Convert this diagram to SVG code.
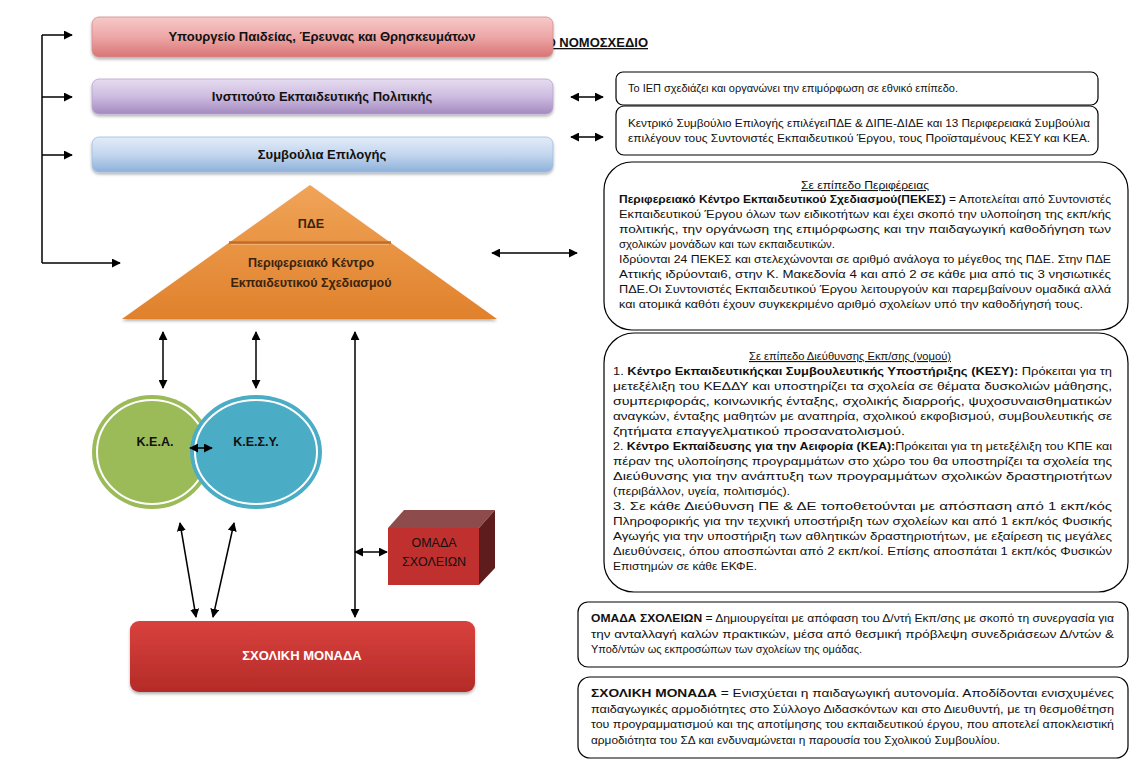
<svg xmlns="http://www.w3.org/2000/svg" width="1140" height="777" viewBox="0 0 1140 777">
<defs>
<style>
text{font-family:"Liberation Sans","Noto Sans",Arial,sans-serif;fill:#111}
.hd{font-size:13px;font-weight:bold;text-anchor:middle}
.bx{font-size:11.2px}
.b{font-weight:bold}
.tb{fill:#fff;stroke:#000;stroke-width:1.2}
.ar{fill:none;stroke:#000;stroke-width:1.5;marker-start:url(#ah);marker-end:url(#ah)}
.ar1{fill:none;stroke:#000;stroke-width:1.5;marker-end:url(#ah)}
.wt{fill:#fff;font-weight:bold;font-size:13px;text-anchor:middle}
.pt{font-size:12.5px;font-weight:bold;text-anchor:middle;fill:#3a2410}
</style>
<marker id="ah" viewBox="0 0 10 10" refX="9" refY="5" markerWidth="6" markerHeight="6" orient="auto-start-reverse" markerUnits="strokeWidth">
<path d="M0,0 L10,5 L0,10 z" fill="#000"/>
</marker>
<linearGradient id="gPink" x1="0" y1="0" x2="0" y2="1">
<stop offset="0" stop-color="#F6CACA"/><stop offset="0.5" stop-color="#EDA6A6"/><stop offset="1" stop-color="#D97474"/>
</linearGradient>
<linearGradient id="gPurp" x1="0" y1="0" x2="0" y2="1">
<stop offset="0" stop-color="#E6DCF0"/><stop offset="0.5" stop-color="#CDBCE0"/><stop offset="1" stop-color="#A38ABF"/>
</linearGradient>
<linearGradient id="gBlue" x1="0" y1="0" x2="0" y2="1">
<stop offset="0" stop-color="#E2ECF8"/><stop offset="0.5" stop-color="#C3D6EE"/><stop offset="1" stop-color="#8EB0DA"/>
</linearGradient>
<linearGradient id="gOr" x1="0" y1="0" x2="0" y2="1">
<stop offset="0" stop-color="#F0A458"/><stop offset="1" stop-color="#E0812C"/>
</linearGradient>
<linearGradient id="gRed" x1="0" y1="0" x2="0" y2="1">
<stop offset="0" stop-color="#D9413D"/><stop offset="1" stop-color="#B42B28"/>
</linearGradient>
<filter id="sh" x="-10%" y="-20%" width="120%" height="150%">
<feDropShadow dx="0" dy="2" stdDeviation="1.5" flood-color="#000" flood-opacity="0.3"/>
</filter>
</defs>
<rect width="1140" height="777" fill="#fff"/>

<text x="648" y="47" text-anchor="end" font-size="13" font-weight="bold" text-decoration="underline">Ο ΝΟΜΟΣΧΕΔΙΟ</text>

<g id="ypourgeio">
<rect x="92" y="17" width="461" height="40" rx="7" fill="url(#gPink)" stroke="#D58A8A" stroke-width="0.8" filter="url(#sh)"/>
<text class="hd" x="322" y="41">Υπουργείο Παιδείας, Έρευνας και Θρησκευμάτων</text>
</g>
<g id="iep">
<rect x="92" y="79" width="461" height="35" rx="7" fill="url(#gPurp)" stroke="#B7A3CF" stroke-width="0.8" filter="url(#sh)"/>
<text class="hd" x="322" y="101">Ινστιτούτο Εκπαιδευτικής Πολιτικής</text>
</g>
<g id="symvoulia">
<rect x="92" y="137" width="461" height="35" rx="7" fill="url(#gBlue)" stroke="#9FBCE0" stroke-width="0.8" filter="url(#sh)"/>
<text class="hd" x="322" y="159">Συμβούλια Επιλογής</text>
</g>

<g id="pde">
<polygon points="310,185 497,319 122,319" fill="url(#gOr)" filter="url(#sh)"/>
<line x1="229" y1="242.5" x2="391" y2="242.5" stroke="#C46C24" stroke-width="2.5"/>
<line x1="231" y1="244.5" x2="389" y2="244.5" stroke="#F2B070" stroke-width="1"/>
<text class="pt" x="311" y="228">ΠΔΕ</text>
<text class="pt" x="311" y="267">Περιφερειακό Κέντρο</text>
<text class="pt" x="311" y="287">Εκπαιδευτικού Σχεδιασμού</text>
</g>

<g id="kea">
<ellipse cx="152" cy="452" rx="60" ry="57" fill="#9BBB59"/>
<ellipse cx="152" cy="452" rx="55" ry="52" fill="none" stroke="#fff" stroke-width="2"/>
<text x="155" y="446" font-size="12.5" font-weight="bold" text-anchor="middle">Κ.Ε.Α.</text>
</g>
<g id="kesy">
<ellipse cx="256" cy="452" rx="66" ry="57" fill="#4BACC6"/>
<ellipse cx="256" cy="452" rx="61" ry="52" fill="none" stroke="#fff" stroke-width="2"/>
<text x="256" y="446" font-size="12.5" font-weight="bold" text-anchor="middle">Κ.Ε.Σ.Υ.</text>
</g>

<g id="omada">
<polygon points="388,528 404,510 495,510 479,528" fill="#8E4B4B"/>
<polygon points="479,528 495,510 495,568 479,585" fill="#5E1C1C"/>
<rect x="388" y="528" width="91" height="57" fill="#C0302E"/>
<text x="434" y="547" font-size="12.5" text-anchor="middle" fill="#fff">ΟΜΑΔΑ</text>
<text x="434" y="566" font-size="12.5" text-anchor="middle" fill="#fff">ΣΧΟΛΕΙΩΝ</text>
</g>

<g id="sxoliki">
<rect x="130" y="621" width="345" height="71" rx="9" fill="url(#gRed)" filter="url(#sh)"/>
<text class="wt" x="302" y="660">ΣΧΟΛΙΚΗ ΜΟΝΑΔΑ</text>
</g>

<g id="iep-desc">
<rect class="tb" x="616" y="72" width="482" height="33" rx="7"/>
<text class="bx" x="628" y="92" textLength="330" lengthAdjust="spacingAndGlyphs">Το ΙΕΠ σχεδιάζει και οργανώνει την επιμόρφωση σε εθνικό επίπεδο.</text>
</g>
<g id="symv-desc">
<rect class="tb" x="616" y="106" width="482" height="49" rx="8"/>
<text class="bx" x="628" y="127" textLength="462" lengthAdjust="spacingAndGlyphs">Κεντρικό Συμβούλιο Επιλογής επιλέγειΠΔΕ &amp; ΔΙΠΕ-ΔΙΔΕ και 13 Περιφερειακά Συμβούλια</text>
<text class="bx" x="628" y="142" textLength="462" lengthAdjust="spacingAndGlyphs">επιλέγουν τους Συντονιστές Εκπαιδευτικού Έργου, τους Προϊσταμένους ΚΕΣΥ και ΚΕΑ.</text>
</g>

<g id="pekes-desc">
<rect class="tb" x="604" y="162" width="524" height="168" rx="28"/>
<text class="bx" x="865" y="189" text-anchor="middle" text-decoration="underline" textLength="128" lengthAdjust="spacingAndGlyphs">Σε επίπεδο Περιφέρειας</text>
<text class="bx" x="619" y="203" textLength="492" lengthAdjust="spacingAndGlyphs"><tspan class="b">Περιφερειακό Κέντρο Εκπαιδευτικού Σχεδιασμού(ΠΕΚΕΣ)</tspan> = Αποτελείται από Συντονιστές</text>
<text class="bx" x="619" y="218" textLength="492" lengthAdjust="spacingAndGlyphs">Εκπαιδευτικού Έργου όλων των ειδικοτήτων και έχει σκοπό την υλοποίηση της εκπ/κής</text>
<text class="bx" x="619" y="233" textLength="492" lengthAdjust="spacingAndGlyphs">πολιτικής, την οργάνωση της επιμόρφωσης και την παιδαγωγική καθοδήγηση των</text>
<text class="bx" x="619" y="248" textLength="216" lengthAdjust="spacingAndGlyphs">σχολικών μονάδων και των εκπαιδευτικών.</text>
<text class="bx" x="619" y="263" textLength="492" lengthAdjust="spacingAndGlyphs">Ιδρύονται 24 ΠΕΚΕΣ και στελεχώνονται σε αριθμό ανάλογα το μέγεθος της ΠΔΕ. Στην ΠΔΕ</text>
<text class="bx" x="619" y="278" textLength="492" lengthAdjust="spacingAndGlyphs">Αττικής ιδρύονται6, στην Κ. Μακεδονία 4 και από 2 σε κάθε μια από τις 3 νησιωτικές</text>
<text class="bx" x="619" y="293" textLength="492" lengthAdjust="spacingAndGlyphs">ΠΔΕ.Οι Συντονιστές Εκπαιδευτικού Έργου λειτουργούν και παρεμβαίνουν ομαδικά αλλά</text>
<text class="bx" x="619" y="308" textLength="464" lengthAdjust="spacingAndGlyphs">και ατομικά καθότι έχουν συγκεκριμένο αριθμό σχολείων υπό την καθοδήγησή τους.</text>
</g>

<g id="kesy-desc">
<rect class="tb" x="604" y="333" width="524" height="259" rx="30"/>
<text class="bx" x="850" y="360" text-anchor="middle" text-decoration="underline" textLength="202" lengthAdjust="spacingAndGlyphs">Σε επίπεδο Διεύθυνσης Εκπ/σης (νομού)</text>
<text class="bx" x="613" y="375" textLength="499" lengthAdjust="spacingAndGlyphs">1. <tspan class="b">Κέντρο Εκπαιδευτικήςκαι Συμβουλευτικής Υποστήριξης (ΚΕΣΥ):</tspan> Πρόκειται για τη</text>
<text class="bx" x="613" y="390" textLength="499" lengthAdjust="spacingAndGlyphs">μετεξέλιξη του ΚΕΔΔΥ και υποστηρίζει τα σχολεία σε θέματα δυσκολιών μάθησης,</text>
<text class="bx" x="613" y="405" textLength="499" lengthAdjust="spacingAndGlyphs">συμπεριφοράς, κοινωνικής ένταξης, σχολικής διαρροής, ψυχοσυναισθηματικών</text>
<text class="bx" x="613" y="420" textLength="499" lengthAdjust="spacingAndGlyphs">αναγκών, ένταξης μαθητών με αναπηρία, σχολικού εκφοβισμού, συμβουλευτικής σε</text>
<text class="bx" x="613" y="435" textLength="292" lengthAdjust="spacingAndGlyphs">ζητήματα επαγγελματικού προσανατολισμού.</text>
<text class="bx" x="613" y="450" textLength="499" lengthAdjust="spacingAndGlyphs">2. <tspan class="b">Κέντρο Εκπαίδευσης για την Αειφορία (ΚΕΑ):</tspan>Πρόκειται για τη μετεξέλιξη του ΚΠΕ και</text>
<text class="bx" x="613" y="465" textLength="499" lengthAdjust="spacingAndGlyphs">πέραν της υλοποίησης προγραμμάτων στο χώρο του θα υποστηρίζει τα σχολεία της</text>
<text class="bx" x="613" y="480" textLength="499" lengthAdjust="spacingAndGlyphs">Διεύθυνσης για την ανάπτυξη των προγραμμάτων σχολικών δραστηριοτήτων</text>
<text class="bx" x="613" y="495" textLength="177" lengthAdjust="spacingAndGlyphs">(περιβάλλον, υγεία, πολιτισμός).</text>
<text class="bx" x="613" y="510" textLength="499" lengthAdjust="spacingAndGlyphs">3. Σε κάθε Διεύθυνση ΠΕ &amp; ΔΕ τοποθετούνται με απόσπαση από 1 εκπ/κός</text>
<text class="bx" x="613" y="525" textLength="499" lengthAdjust="spacingAndGlyphs">Πληροφορικής για την τεχνική υποστήριξη των σχολείων και από 1 εκπ/κός Φυσικής</text>
<text class="bx" x="613" y="540" textLength="499" lengthAdjust="spacingAndGlyphs">Αγωγής για την υποστήριξη των αθλητικών δραστηριοτήτων, με εξαίρεση τις μεγάλες</text>
<text class="bx" x="613" y="555" textLength="499" lengthAdjust="spacingAndGlyphs">Διευθύνσεις, όπου αποσπώνται από 2 εκπ/κοί. Επίσης αποσπάται 1 εκπ/κός Φυσικών</text>
<text class="bx" x="613" y="570" textLength="144" lengthAdjust="spacingAndGlyphs">Επιστημών σε κάθε ΕΚΦΕ.</text>
</g>

<g id="omada-desc">
<rect class="tb" x="578" y="602" width="550" height="65" rx="10"/>
<text class="bx" x="591" y="622" textLength="523" lengthAdjust="spacingAndGlyphs"><tspan class="b">ΟΜΑΔΑ ΣΧΟΛΕΙΩΝ</tspan> = Δημιουργείται με απόφαση του Δ/ντή Εκπ/σης με σκοπό τη συνεργασία για</text>
<text class="bx" x="591" y="638" textLength="523" lengthAdjust="spacingAndGlyphs">την ανταλλαγή καλών πρακτικών, μέσα από θεσμική πρόβλεψη συνεδριάσεων Δ/ντών &amp;</text>
<text class="bx" x="591" y="653" textLength="271" lengthAdjust="spacingAndGlyphs">Υποδ/ντών ως εκπροσώπων των σχολείων της ομάδας.</text>
</g>

<g id="sxoliki-desc">
<rect class="tb" x="578" y="677" width="550" height="81" rx="12"/>
<text class="bx" x="591" y="697" textLength="523" lengthAdjust="spacingAndGlyphs"><tspan class="b">ΣΧΟΛΙΚΗ ΜΟΝΑΔΑ</tspan> = Ενισχύεται η παιδαγωγική αυτονομία. Αποδίδονται ενισχυμένες</text>
<text class="bx" x="591" y="713" textLength="523" lengthAdjust="spacingAndGlyphs">παιδαγωγικές αρμοδιότητες στο Σύλλογο Διδασκόντων και στο Διευθυντή, με τη θεσμοθέτηση</text>
<text class="bx" x="591" y="728" textLength="523" lengthAdjust="spacingAndGlyphs">του προγραμματισμού και της αποτίμησης του εκπαιδευτικού έργου, που αποτελεί αποκλειστική</text>
<text class="bx" x="591" y="744" textLength="409" lengthAdjust="spacingAndGlyphs">αρμοδιότητα του ΣΔ και ενδυναμώνεται η παρουσία του Σχολικού Συμβουλίου.</text>
</g>

<g id="connectors">
<polyline points="42,35 42,263" fill="none" stroke="#000" stroke-width="1.5"/>
<line class="ar1" x1="42" y1="35" x2="72" y2="35"/>
<line class="ar1" x1="42" y1="97" x2="72" y2="97"/>
<line class="ar1" x1="42" y1="155" x2="72" y2="155"/>
<line class="ar1" x1="42" y1="263" x2="120" y2="263"/>
<line class="ar" x1="571" y1="97" x2="603" y2="97"/>
<line class="ar" x1="571" y1="137" x2="603" y2="137"/>
<line class="ar" x1="492" y1="253" x2="577" y2="253"/>
<line class="ar" x1="163" y1="332" x2="163" y2="388"/>
<line class="ar" x1="256" y1="332" x2="256" y2="388"/>
<line class="ar" x1="355" y1="332" x2="355" y2="617"/>
<line class="ar" x1="190" y1="448" x2="212" y2="448"/>
<line class="ar" x1="180" y1="523" x2="196" y2="617"/>
<line class="ar" x1="234" y1="523" x2="213" y2="617"/>
<line class="ar" x1="355" y1="552" x2="387" y2="552"/>
</g>
</svg>
